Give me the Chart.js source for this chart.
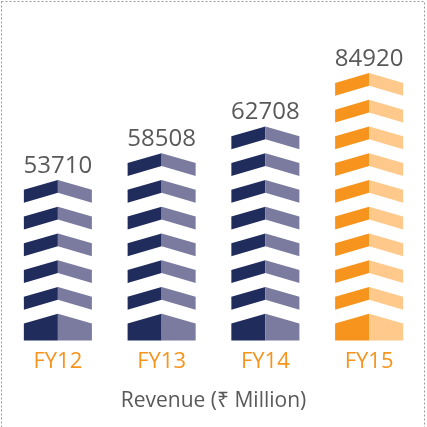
<!DOCTYPE html>
<html lang="en">
  <head>
    <meta charset="UTF-8">
    <meta name="viewport" content="width=device-width, initial-scale=1.0">
    <title>Revenue</title>
    <script src="https://cdn.jsdelivr.net/npm/chart.js"></script>
    <style>
      body { margin: 0; background: #fff; }
    </style>
  </head>

  <body>
    <canvas id="grafico1" width="427" height="427"></canvas>

    <script>
      // data
      const labelsX = ["FY12", "FY13", "FY14", "FY15"]
      const revenue = [53710, 58508, 62708, 84920]
      const blocks = [6, 7, 8, 10]   // chevrons stacked in each column
      const darkColors = ["#1F2C5C", "#1F2C5C", "#1F2C5C", "#F7941D"]
      const lightColors = ["#7A7B9F", "#7A7B9F", "#7A7B9F", "#FEC98B"]

      const font = "'Open Sans', 'Noto Sans', 'DejaVu Sans', sans-serif"

      // dashed frame round the picture
      const frame = {
        id: 'frame',
        beforeDraw(chart) {
          const c = chart.ctx
          c.save()
          c.strokeStyle = '#9a9a9a'
          c.lineWidth = 1
          c.setLineDash([2, 2])
          c.strokeRect(1.5, 1.5, 423, 440)
          c.restore()
        }
      }

      // each bar is drawn as a stack of chevrons, one per unit of the y scale
      const chevrons = {
        id: 'chevrons',
        afterDatasetsDraw(chart) {
          const c = chart.ctx
          const y = chart.scales.y
          c.save()
          chart.getDatasetMeta(0).data.forEach((bar, i) => {
            const half = bar.width / 2
            const cx = bar.x
            for (let k = 0; k < blocks[i]; k++) {
              const top = y.getPixelForValue(k + 1)
              const bottom = y.getPixelForValue(k)
              const h = bottom - top
              const rise = h * 0.37
              const thick = h * 0.48
              ;[[-1, darkColors[i]], [1, lightColors[i]]].forEach(([s, col]) => {
                c.fillStyle = col
                c.beginPath()
                c.moveTo(cx, top)
                c.lineTo(cx + s * half, top + rise)
                if (k === 0) {
                  c.lineTo(cx + s * half, bottom)
                  c.lineTo(cx, bottom)
                } else {
                  c.lineTo(cx + s * half, top + rise + thick)
                  c.lineTo(cx, top + thick)
                }
                c.closePath()
                c.fill()
              })
            }
            // value above the column
            c.fillStyle = '#595959'
            c.font = '24px ' + font
            c.textAlign = 'center'
            c.textBaseline = 'alphabetic'
            c.fillText(String(revenue[i]), cx, bar.y - 7)
          })
          c.restore()
        }
      }

      const ctx = document.getElementById('grafico1')

      let grafico1 = new Chart(ctx, {
        type: 'bar',
        data: {
          labels: labelsX,
          datasets: [{
            data: blocks,
            backgroundColor: 'rgba(0,0,0,0)',
            barPercentage: 0.656,
            categoryPercentage: 1
          }]
        },
        options: {
          responsive: false,
          animation: false,
          layout: {
            padding: { top: 73, left: 6, right: 6, bottom: 13 }
          },
          plugins: {
            legend: { display: false },
            tooltip: { enabled: false }
          },
          scales: {
            y: {
              display: false,
              min: 0,
              max: 10
            },
            x: {
              grid: { display: false, drawTicks: false },
              border: { display: false },
              ticks: {
                color: '#F7941D',
                padding: 8,
                font: { family: font, size: 22 }
              },
              title: {
                display: true,
                text: 'Revenue (₹ Million)',
                color: '#595959',
                padding: { top: 6, bottom: 0 },
                font: { family: font, size: 21 }
              }
            }
          }
        },
        plugins: [frame, chevrons]
      });
    </script>
  </body>
</html>
